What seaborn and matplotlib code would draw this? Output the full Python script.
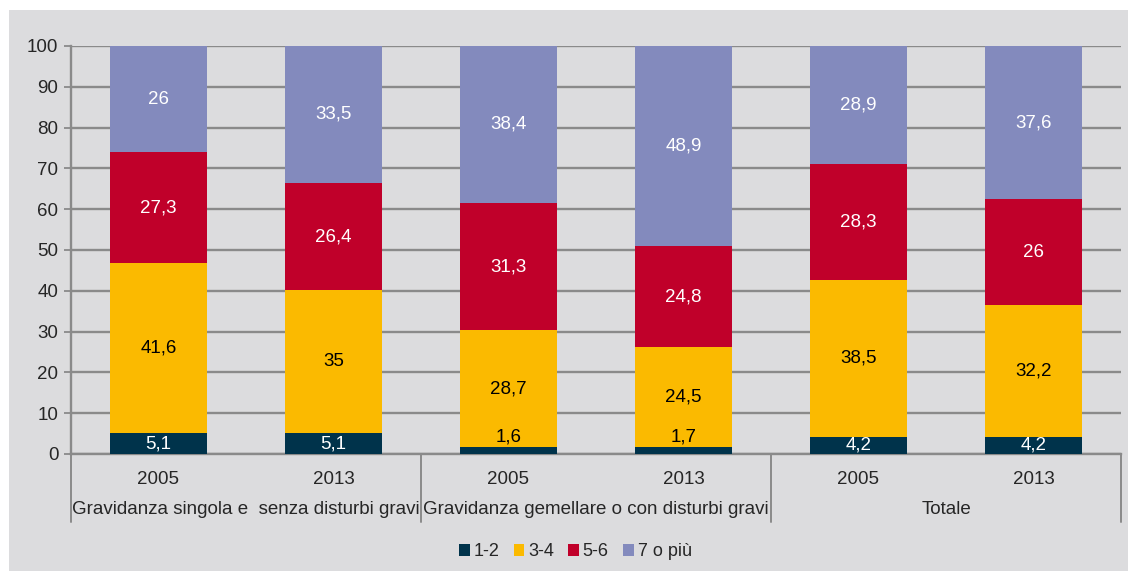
import pandas as pd
import matplotlib.pyplot as plt
import seaborn as sns
from matplotlib.patches import Rectangle, Patch
import numpy as np

# data
years = ['2005', '2013', '2005', '2013', '2005', '2013']
groups = ['Gravidanza singola e  senza disturbi gravi',
          'Gravidanza gemellare o con disturbi gravi',
          'Totale']
series = ['1-2', '3-4', '5-6', '7 o più']
v12 = [5.1, 5.1, 1.6, 1.7, 4.2, 4.2]
v34 = [41.6, 35, 28.7, 24.5, 38.5, 32.2]
v56 = [27.3, 26.4, 31.3, 24.8, 28.3, 26]
v7 = [26, 33.5, 38.4, 48.9, 28.9, 37.6]

colors = ['#00334b', '#fbba00', '#c0002a', '#838abd']
txt_colors = ['white', 'black', 'white', 'white']
bg = '#dcdcde'
gridc = '#8a8a8a'
fs = 13.5

sns.set_theme(style='white')
plt.rcParams['font.family'] = ['Liberation Sans', 'DejaVu Sans']

fig = plt.figure(figsize=(11.28, 5.71), dpi=100)
fig.patch.set_facecolor('white')
fig.patches.append(Rectangle((9 / 1128, 0), 1, 1 - 10 / 571, transform=fig.transFigure,
                             facecolor=bg, edgecolor='none', zorder=-10))
ax = fig.add_axes([71 / 1128, 1 - 454 / 571, 1050 / 1128, 408 / 571])
ax.set_facecolor(bg)

keys = [f'c{i}' for i in range(len(years))]
vals = [v12, v34, v56, v7]
cum = np.cumsum(np.array(vals), axis=0)
df = pd.DataFrame({'key': keys})
for i, s in enumerate(series):
    df[s] = cum[i]

# draw cumulative totals from top to bottom so they overlap into stacks
for i in range(len(series) - 1, -1, -1):
    sns.barplot(data=df, x='key', y=series[i], color=colors[i], width=0.55,
                saturation=1, ax=ax, zorder=3, edgecolor='none', linewidth=0)

# labels
for j in range(len(keys)):
    for i in range(len(series)):
        v = vals[i][j]
        top = cum[i][j]
        lab = f'{v:g}'.replace('.', ',')
        if v < 3:
            ax.text(j, top + 0.4, lab, ha='center', va='bottom', fontsize=fs,
                    color='black', zorder=5)
        else:
            ax.text(j, top - v / 2, lab, ha='center', va='center', fontsize=fs,
                    color=txt_colors[i], zorder=5)

ax.set_ylim(0, 100)
ax.set_xlim(-0.5, 5.5)
ax.set_yticks(range(0, 101, 10))
ax.yaxis.grid(True, color=gridc, linewidth=1.7, zorder=0)
ax.set_axisbelow(True)
ax.tick_params(axis='y', length=5, width=1.3, color=gridc, labelsize=fs, pad=4, left=True)
ax.tick_params(axis='x', length=0, labelsize=fs, pad=12)
ax.set_xticks(range(len(years)))
ax.set_xticklabels(years)
ax.set_xlabel('')
ax.set_ylabel('')
for s in ['top', 'right']:
    ax.spines[s].set_visible(False)
for s in ['left', 'bottom']:
    ax.spines[s].set_color(gridc)
    ax.spines[s].set_linewidth(1.7)

# group separators and labels
trans = ax.get_xaxis_transform()
for x in [-0.5, 1.5, 3.5, 5.5]:
    ax.plot([x, x], [0, -0.167], transform=trans, color=gridc, linewidth=1.4, clip_on=False)
for k, g in enumerate(groups):
    ax.text(2 * k + 0.5, -0.135, g, transform=trans, ha='center', va='center', fontsize=fs)

handles = [Patch(facecolor=c, edgecolor='none') for c in colors]
fig.legend(handles, series, loc='center', bbox_to_anchor=(0.51, 1 - 552 / 571), ncol=4,
           frameon=False, fontsize=13, handlelength=0.6, handleheight=0.6,
           handletextpad=0.2, columnspacing=0.8)

fig.savefig('out.png', dpi=100, facecolor=fig.get_facecolor())
